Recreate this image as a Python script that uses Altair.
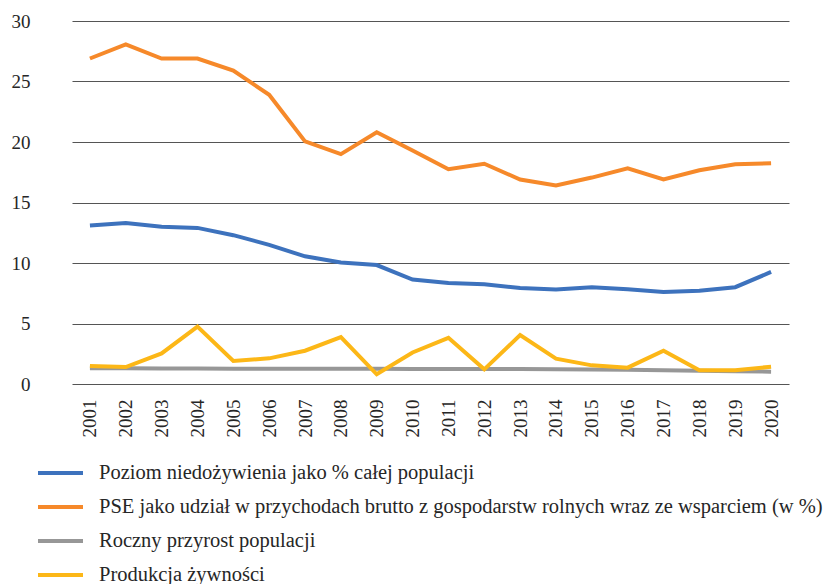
import altair as alt
import pandas as pd

# Years on the category axis
years = [str(y) for y in range(2001, 2021)]

# Series (values in %)
niedozywienie = [13.1, 13.3, 13.0, 12.9, 12.3, 11.5, 10.55, 10.05, 9.83, 8.63,
                 8.35, 8.24, 7.94, 7.8, 8.0, 7.83, 7.6, 7.7, 8.0, 9.26]
pse = [26.9, 28.07, 26.9, 26.9, 25.9, 23.9, 20.05, 19.0, 20.8, 19.3,
       17.75, 18.2, 16.9, 16.4, 17.06, 17.83, 16.9, 17.66, 18.16, 18.24]
przyrost = [1.3, 1.3, 1.29, 1.28, 1.27, 1.27, 1.27, 1.27, 1.26, 1.25,
            1.23, 1.24, 1.24, 1.22, 1.19, 1.17, 1.14, 1.1, 1.06, 1.02]
produkcja = [1.49, 1.4, 2.53, 4.74, 1.9, 2.12, 2.75, 3.88, 0.8, 2.61,
             3.82, 1.21, 4.04, 2.09, 1.54, 1.35, 2.75, 1.13, 1.13, 1.43]

series_names = [
    "Poziom niedożywienia jako % całej populacji",
    "PSE jako udział w przychodach brutto z gospodarstw rolnych wraz ze wsparciem (w %)",
    "Roczny przyrost populacji",
    "Produkcja żywności",
]
series_values = [niedozywienie, pse, przyrost, produkcja]
series_colors = ["#3d72bd", "#f6892a", "#979797", "#fcb717"]

rows = []
for name, vals in zip(series_names, series_values):
    for yr, v in zip(years, vals):
        rows.append({"rok": yr, "wartosc": v, "seria": name})
df = pd.DataFrame(rows)

FONT = "Liberation Serif, DejaVu Serif, serif"

chart = alt.Chart(df).mark_line(strokeWidth=4, strokeJoin="miter").encode(
    x=alt.X(
        "rok:O",
        sort=years,
        title=None,
        scale=alt.Scale(type="point", range=[27, 744]),
        axis=alt.Axis(labelAngle=-90, labelAlign="right", labelBaseline="middle",
                      labelPadding=15, ticks=False, domain=False, grid=False,
                      labelFontSize=19, labelFont=FONT),
    ),
    y=alt.Y(
        "wartosc:Q",
        title=None,
        scale=alt.Scale(domain=[0, 30], nice=False),
        axis=alt.Axis(values=[0, 5, 10, 15, 20, 25, 30], ticks=False, domain=False,
                      grid=True, gridColor="#555555", gridWidth=1.2,
                      labelPadding=15, labelFontSize=19, labelFont=FONT),
    ),
    color=alt.Color(
        "seria:N",
        sort=series_names,
        scale=alt.Scale(domain=series_names, range=series_colors),
        legend=alt.Legend(
            title=None,
            orient="none",
            legendX=4.5,
            legendY=441,
            direction="vertical",
            symbolType="M-2.5,0H2.5",
            symbolSize=324,
            symbolStrokeWidth=4,
            labelOffset=27.5,
            rowPadding=12,
            padding=0,
            labelFontSize=20.5,
            labelFont=FONT,
            labelLimit=900,
        ),
    ),
).properties(
    width=778,
    height=363,
    autosize=alt.AutoSizeParams(type="none"),
    padding={"left": 45, "top": 21, "right": 0, "bottom": 200},
).configure(
    font=FONT
).configure_view(
    stroke=None
).configure_axis(
    labelColor="#262626",
).configure_legend(
    labelColor="#262626",
)

chart.save("out.html", embed_options={"renderer": "svg", "actions": False})
